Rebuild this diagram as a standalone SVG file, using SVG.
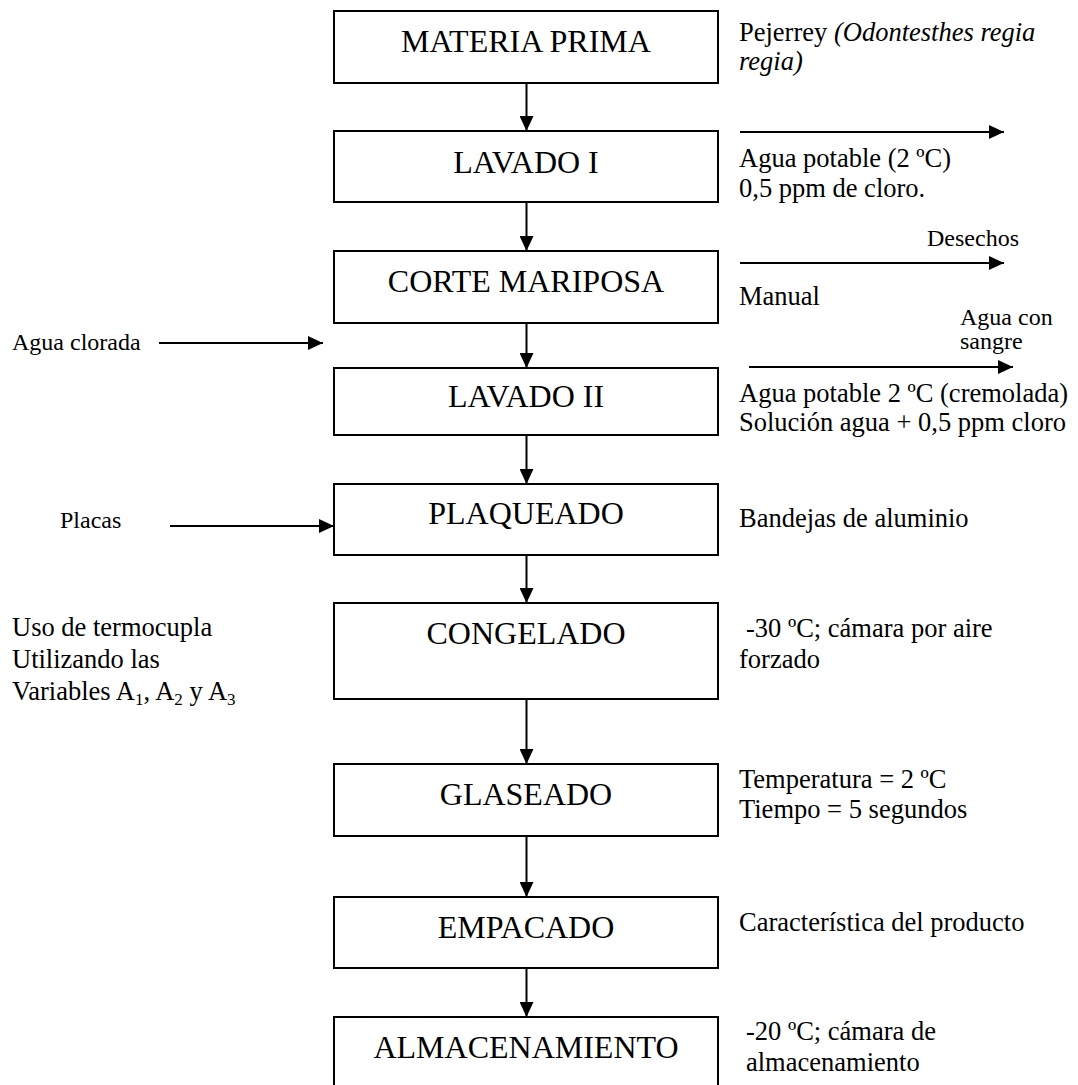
<svg xmlns="http://www.w3.org/2000/svg" width="1078" height="1085" viewBox="0 0 1078 1085">
<defs>
<style>
.box{fill:#fff;stroke:#000;stroke-width:2}
.lbl{font-family:"Liberation Serif","Times New Roman",serif;font-size:32px;fill:#000;text-anchor:middle}
.side{font-family:"Liberation Serif","Times New Roman",serif;font-size:26.5px;fill:#000}
.small{font-family:"Liberation Serif","Times New Roman",serif;font-size:24px;fill:#000}
.con{stroke:#000;stroke-width:2;fill:none;marker-end:url(#ah)}
</style>
<marker id="ah" markerUnits="userSpaceOnUse" markerWidth="16" markerHeight="14" refX="15" refY="7" orient="auto">
<path d="M0,0 L15,7 L0,14 Z" fill="#000"/>
</marker>
</defs>
<rect width="1078" height="1085" fill="#fff"/>
<g id="n1"><rect class="box" x="334" y="11" width="384" height="72"/><text class="lbl" x="526" y="52">MATERIA PRIMA</text></g>
<g id="n2"><rect class="box" x="334" y="131" width="384" height="71"/><text class="lbl" x="526" y="173">LAVADO I</text></g>
<g id="n3"><rect class="box" x="334" y="251" width="384" height="72"/><text class="lbl" x="526" y="292">CORTE MARIPOSA</text></g>
<g id="n4"><rect class="box" x="334" y="368" width="384" height="67"/><text class="lbl" x="526" y="407">LAVADO II</text></g>
<g id="n5"><rect class="box" x="334" y="484" width="384" height="71"/><text class="lbl" x="526" y="524">PLAQUEADO</text></g>
<g id="n6"><rect class="box" x="334" y="603" width="384" height="96"/><text class="lbl" x="526" y="644">CONGELADO</text></g>
<g id="n7"><rect class="box" x="334" y="764" width="384" height="72"/><text class="lbl" x="526" y="805">GLASEADO</text></g>
<g id="n8"><rect class="box" x="334" y="897" width="384" height="71"/><text class="lbl" x="526" y="938">EMPACADO</text></g>
<g id="n9"><rect class="box" x="334" y="1017" width="384" height="90"/><text class="lbl" x="526" y="1058">ALMACENAMIENTO</text></g>
<g id="connectors">
<line class="con" x1="526.5" y1="83" x2="526.5" y2="131"/>
<line class="con" x1="526.5" y1="202" x2="526.5" y2="251"/>
<line class="con" x1="526.5" y1="323" x2="526.5" y2="368"/>
<line class="con" x1="526.5" y1="435" x2="526.5" y2="484"/>
<line class="con" x1="526.5" y1="555" x2="526.5" y2="603"/>
<line class="con" x1="526.5" y1="699" x2="526.5" y2="764"/>
<line class="con" x1="526.5" y1="836" x2="526.5" y2="897"/>
<line class="con" x1="526.5" y1="968" x2="526.5" y2="1017"/>
<line class="con" x1="159" y1="343" x2="323" y2="343"/>
<line class="con" x1="170" y1="526" x2="334" y2="526"/>
<line class="con" x1="740" y1="132" x2="1004" y2="132"/>
<line class="con" x1="740" y1="263" x2="1004" y2="263"/>
<line class="con" x1="749" y1="367" x2="1013" y2="367"/>
</g>
<g id="annotations">
<text class="side" x="739" y="41">Pejerrey <tspan font-style="italic">(Odontesthes regia</tspan></text>
<text class="side" x="739" y="70" font-style="italic">regia)</text>
<text class="side" x="739" y="167">Agua potable (2 ºC)</text>
<text class="side" x="739" y="197">0,5 ppm de cloro.</text>
<text class="small" x="927" y="246">Desechos</text>
<text class="side" x="739" y="305">Manual</text>
<text class="small" x="960" y="325">Agua con</text>
<text class="small" x="960" y="349">sangre</text>
<text class="small" x="12" y="350">Agua clorada</text>
<text class="side" x="739" y="402">Agua potable 2 ºC (cremolada)</text>
<text class="side" x="739" y="431">Solución agua + 0,5 ppm cloro</text>
<text class="small" x="60" y="528">Placas</text>
<text class="side" x="739" y="527">Bandejas de aluminio</text>
<text class="side" x="12" y="636">Uso de termocupla</text>
<text class="side" x="12" y="668">Utilizando las</text>
<text class="side" x="12" y="700">Variables A<tspan font-size="17" dy="5">1</tspan><tspan dy="-5">, A</tspan><tspan font-size="17" dy="5">2</tspan><tspan dy="-5"> y A</tspan><tspan font-size="17" dy="5">3</tspan></text>
<text class="side" x="746" y="637">-30 ºC; cámara por aire</text>
<text class="side" x="739" y="668">forzado</text>
<text class="side" x="739" y="788">Temperatura = 2 ºC</text>
<text class="side" x="739" y="818">Tiempo = 5 segundos</text>
<text class="side" x="739" y="931">Característica del producto</text>
<text class="side" x="746" y="1040">-20 ºC; cámara de</text>
<text class="side" x="746" y="1071">almacenamiento</text>
</g>
</svg>
